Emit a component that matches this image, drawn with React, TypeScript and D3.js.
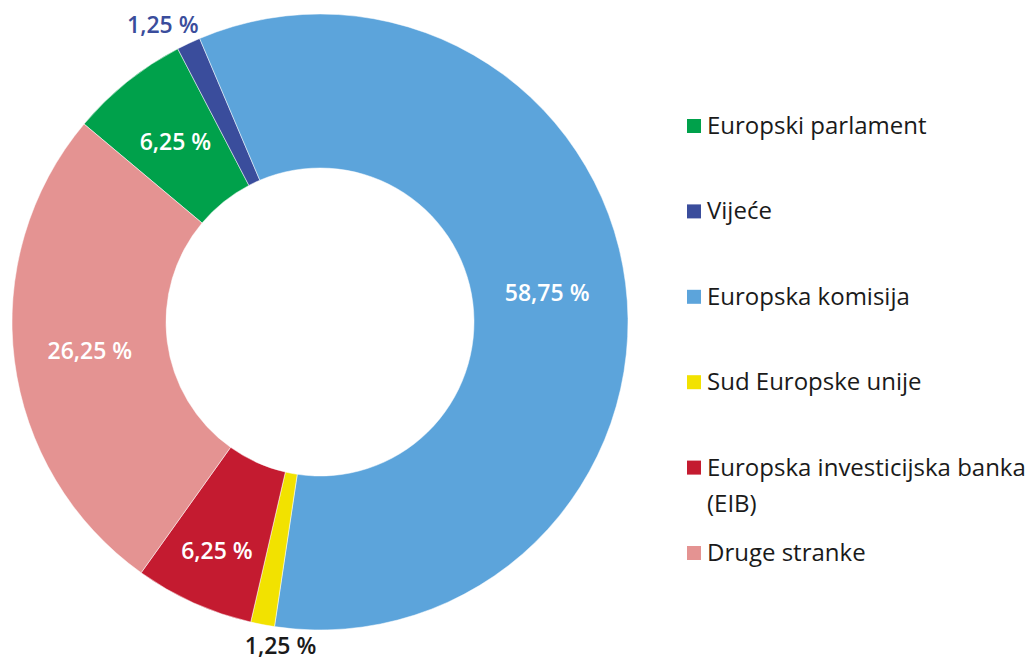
import React from "react";
import * as d3 from "d3";

const categories = [
  "Europski parlament",
  "Vijeće",
  "Europska komisija",
  "Sud Europske unije",
  "Europska investicijska banka (EIB)",
  "Druge stranke",
];
const values = [6.25, 1.25, 58.75, 1.25, 6.25, 26.25];
const colors = ["#00a14b", "#3a4d9c", "#5ca4db", "#f2e200", "#c41b30", "#e49392"];
const legendLines = [
  ["Europski parlament"],
  ["Vijeće"],
  ["Europska komisija"],
  ["Sud Europske unije"],
  ["Europska investicijska banka", "(EIB)"],
  ["Druge stranke"],
];

const W = 1029;
const H = 659;
const cx = 320;
const cy = 322;
const outerR = 308;
const innerR = 154;
const startDeg = -50;
const font = "'Open Sans', sans-serif";
const labelR = [231, 0, 229, 0, 251, 232];

function fmt(v: number) {
  return v.toFixed(2).replace(".", ",") + " %";
}

export default function App() {
  const pie = d3
    .pie<number>()
    .sort(null)
    .value((d) => d)
    .startAngle((startDeg * Math.PI) / 180)
    .endAngle((startDeg * Math.PI) / 180 + 2 * Math.PI);
  const arcs = pie(values);
  const arc = d3.arc<d3.PieArcDatum<number>>().innerRadius(innerR).outerRadius(outerR);

  const legendY = d3.scaleLinear().domain([0, 5]).range([126, 553]);

  return (
    <svg width={W} height={H} style={{ position: "absolute", left: 0, top: 0 }}>
      <g transform={`translate(${cx},${cy})`}>
        {arcs.map((a, i) => (
          <path key={i} d={arc(a) || ""} fill={colors[i]} stroke="#ffffff" strokeWidth={0.5} />
        ))}
        {arcs.map((a, i) => {
          const small = values[i] < 3;
          const mid = (a.startAngle + a.endAngle) / 2;
          if (!small) {
            const r = labelR[i];
            const x = r * Math.sin(mid);
            const y = -r * Math.cos(mid);
            return (
              <text
                key={"l" + i}
                x={x}
                y={y}
                dy="0.35em"
                textAnchor="middle"
                fill="#ffffff"
                fontFamily={font}
                fontWeight={600}
                fontSize={23}
              >
                {fmt(values[i])}
              </text>
            );
          }
          const px = outerR * Math.sin(mid);
          const py = -outerR * Math.cos(mid);
          const top = py < 0;
          return (
            <text
              key={"l" + i}
              x={top ? px + 10 : px + 18}
              y={top ? py - 10 : py + 29}
              textAnchor={top ? "end" : "middle"}
              fill={top ? colors[i] : "#1a1a1a"}
              fontFamily={font}
              fontWeight={600}
              fontSize={23}
            >
              {fmt(values[i])}
            </text>
          );
        })}
      </g>
      <g>
        {categories.map((c, i) => {
          const y = legendY(i);
          return (
            <g key={c}>
              <rect x={687} y={y - 7} width={14} height={14} fill={colors[i]} />
              {legendLines[i].map((t, j) => (
                <text
                  key={j}
                  x={707}
                  y={y + 8 + j * 36}
                  fill="#1a1a1a"
                  fontFamily={font}
                  fontSize={24}
                >
                  {t}
                </text>
              ))}
            </g>
          );
        })}
      </g>
    </svg>
  );
}
